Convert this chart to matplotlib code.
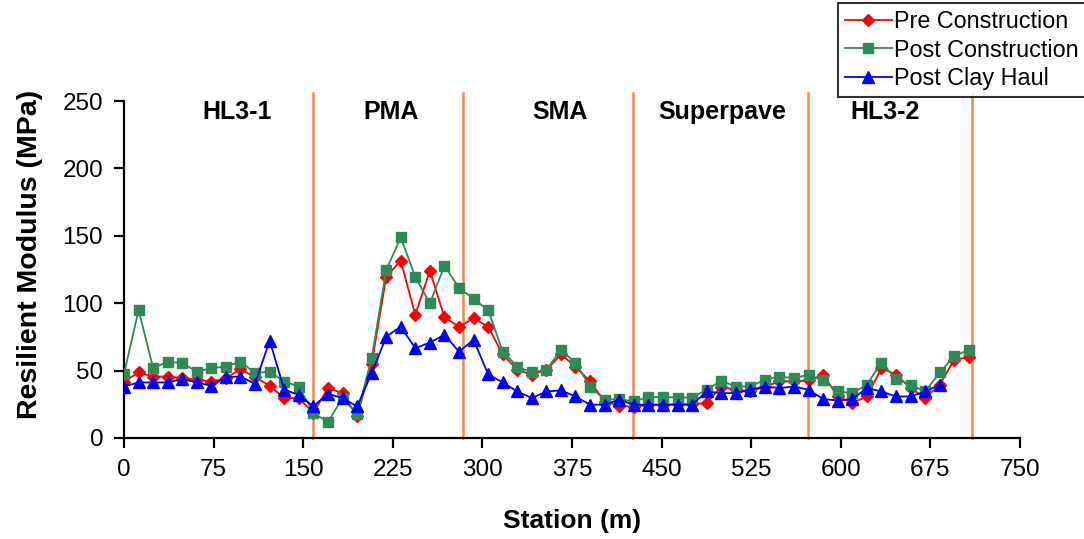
import matplotlib
matplotlib.use('Agg')
import matplotlib.pyplot as plt

plt.rcParams['font.family'] = ['Liberation Sans', 'DejaVu Sans']

# stations every 40 ft (12.19 m)
station = [0.0, 12.2, 24.4, 36.6, 48.8, 61.0, 73.2, 85.3, 97.5, 109.7,
           121.9, 134.1, 146.3, 158.5, 170.7, 182.9, 195.1, 207.3, 219.5, 231.6,
           243.8, 256.0, 268.2, 280.4, 292.6, 304.8, 317.0, 329.2, 341.4, 353.6,
           365.8, 377.9, 390.1, 402.3, 414.5, 426.7, 438.9, 451.1, 463.3, 475.5,
           487.7, 499.9, 512.1, 524.3, 536.4, 548.6, 560.8, 573.0, 585.2, 597.4,
           609.6, 621.8, 634.0, 646.2, 658.4, 670.6, 682.8, 694.9, 707.1]

pre = [41.9, 48.6, 45.6, 45.6, 44.4, 43.2, 41.9, 44.4, 51.0, 45.2,
       38.7, 29.6, 29.6, 18.5, 37.0, 33.3, 16.0, 55.0, 119.6, 131.5,
       91.3, 124.1, 89.6, 82.6, 88.8, 82.6, 62.0, 50.6, 47.0, 50.6,
       62.0, 53.0, 42.0, 27.0, 24.0, 23.0, 24.7, 24.7, 25.0, 25.0,
       26.0, 38.0, 36.0, 34.5, 38.0, 42.0, 42.0, 42.7, 46.9, 30.8,
       26.0, 30.8, 51.8, 46.9, 37.0, 29.6, 39.5, 58.0, 60.0]

post = [47.4, 95.0, 51.8, 56.7, 55.5, 49.3, 51.8, 53.0, 56.7, 48.1,
        49.3, 41.9, 38.2, 18.5, 11.8, 29.6, 17.8, 59.2, 124.6, 148.8,
        119.6, 99.9, 127.6, 111.5, 103.1, 95.0, 64.1, 53.0, 48.6, 50.6,
        65.4, 55.5, 38.2, 28.4, 28.9, 27.1, 30.4, 30.4, 30.0, 30.0,
        35.8, 42.4, 38.2, 38.2, 43.2, 45.6, 44.4, 46.9, 42.7, 34.5,
        33.3, 39.5, 56.0, 43.7, 39.5, 34.5, 48.6, 60.9, 65.4]

clay = [38.2, 41.2, 41.2, 41.2, 43.7, 41.2, 38.7, 45.2, 45.6, 40.2,
        72.3, 35.8, 32.0, 23.4, 32.8, 29.6, 23.4, 48.1, 75.2, 82.6,
        66.6, 70.8, 76.5, 64.1, 72.8, 47.2, 41.2, 34.5, 29.6, 34.5,
        35.3, 30.8, 24.7, 24.7, 28.4, 24.7, 24.7, 24.7, 24.7, 24.7,
        34.5, 33.3, 33.3, 35.8, 38.2, 37.0, 38.2, 35.8, 28.9, 27.8,
        28.9, 37.0, 34.5, 30.8, 30.8, 34.5, 39.5]

# section boundaries and names
bounds = [158, 284, 426, 572.5, 710]
sections = ['HL3-1', 'PMA', 'SMA', 'Superpave', 'HL3-2']
section_x = [95, 223.5, 365, 500.5, 637]

fig = plt.figure(figsize=(10.84, 5.39), dpi=100)
ax = fig.add_axes([0.1144, 0.1874, 0.8266, 0.6252])

for b in bounds:
    ax.plot([b, b], [0, 256], color='#F7874F', lw=1.8, clip_on=False, zorder=1)

ax.plot(station, pre, '-', color='#FF0000', lw=1.3, marker='D', ms=6,
        label='Pre Construction', zorder=3)
ax.plot(station, post, '-', color='#2E8B57', lw=1.3, marker='s', ms=6.5,
        label='Post Construction', zorder=3)
ax.plot(station[:len(clay)], clay, '-', color='#0000FF', lw=1.3, marker='^', ms=8.5,
        label='Post Clay Haul', zorder=4)

for name, xs in zip(sections, section_x):
    ax.text(xs, 242, name, ha='center', va='center', fontsize=18,
            fontweight='bold')

ax.set_xlim(0, 750)
ax.set_ylim(0, 250)
ax.set_xticks(range(0, 751, 75))
ax.set_yticks(range(0, 251, 50))
ax.spines['top'].set_visible(False)
ax.spines['right'].set_visible(False)
ax.spines['left'].set_linewidth(1.6)
ax.spines['bottom'].set_linewidth(1.6)
ax.tick_params(direction='out', length=7, width=1.6, labelsize=17.5, pad=8)

ax.set_xlabel('Station (m)', fontsize=19, fontweight='bold')
ax.set_ylabel('Resilient Modulus (MPa)', fontsize=20.5, fontweight='bold')
ax.xaxis.set_label_coords(0.5, -0.21)
ax.yaxis.set_label_coords(-0.0904, 0.546)

leg = fig.legend(loc='upper left', bbox_to_anchor=(0.773, 0.995),
                 fontsize=16.8, frameon=True, fancybox=False, handlelength=2.0,
                 handletextpad=0.1, borderpad=0.3, labelspacing=0.25,
                 borderaxespad=0)
leg.get_frame().set_edgecolor('black')
leg.get_frame().set_linewidth(1.5)

fig.savefig('out.png', dpi=100)
